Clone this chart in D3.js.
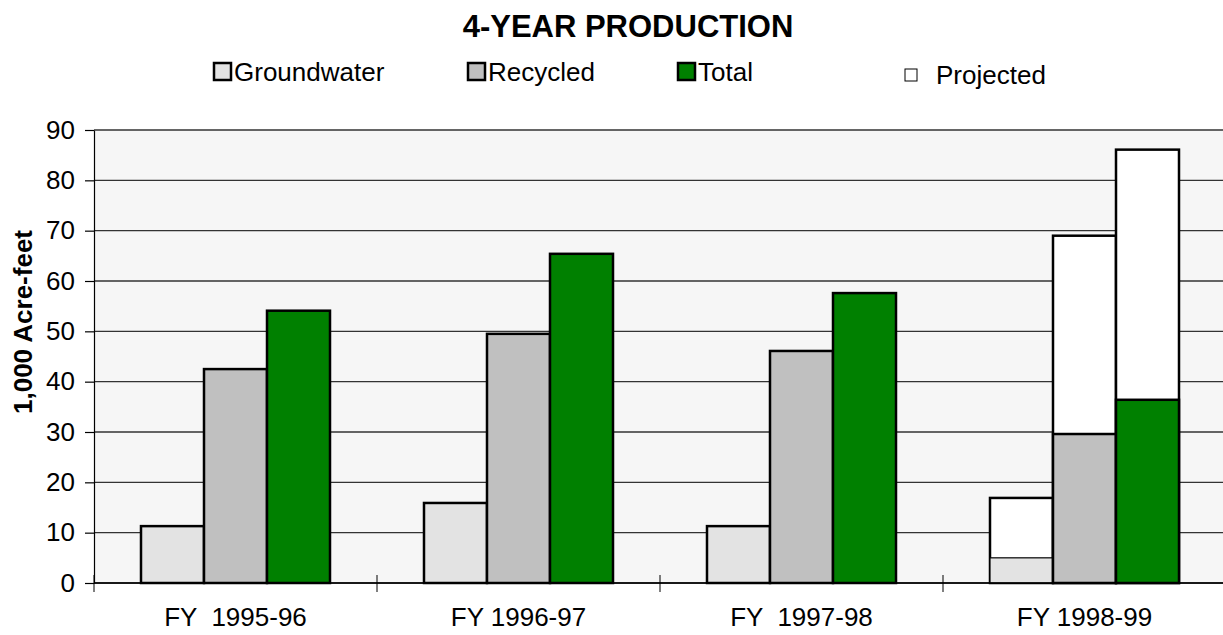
<!DOCTYPE html>
<html lang="en">
<head>
    <meta charset="UTF-8">
    <title>4-Year Production</title>
    <script src="https://d3js.org/d3.v7.min.js"></script>
    <style>
        body { margin: 0; background: #fff; }
        svg text { font-family: "Liberation Sans", Arial, sans-serif; fill: #000; }
    </style>
</head>
<body>
    <svg width="1223" height="635"></svg>

    <script>
        // data
        const years = ["FY  1995-96", "FY 1996-97", "FY  1997-98", "FY 1998-99"];
        const series = ["Groundwater", "Recycled", "Total"];
        const groundwater = [11.3, 15.9, 11.3, 5.0];
        const recycled = [42.5, 49.5, 46.1, 29.6];
        const total = [54.1, 65.4, 57.6, 36.4];
        // projected totals (only last year)
        const projGroundwater = [null, null, null, 16.9];
        const projRecycled = [null, null, null, 69.0];
        const projTotal = [null, null, null, 86.1];
        const yTicks = [0, 10, 20, 30, 40, 50, 60, 70, 80, 90];

        const colors = { Groundwater: "#e3e3e3", Recycled: "#c0c0c0", Total: "#008000" };
        const actual = { Groundwater: groundwater, Recycled: recycled, Total: total };
        const projected = { Groundwater: projGroundwater, Recycled: projRecycled, Total: projTotal };

        const svg = d3.select("svg");
        const plotL = 94, plotT = 130, plotB = 583, plotR = 1226;

        const x0 = d3.scaleBand().domain(years).range([plotL, plotR]).padding(0);
        const x1 = d3.scaleBand().domain(series).range([0, x0.bandwidth()])
            .paddingInner(0).paddingOuter(0.746);
        const y = d3.scaleLinear().domain([0, 90]).range([plotB, plotT]);

        // plot area
        svg.append("rect")
            .attr("x", plotL).attr("y", plotT)
            .attr("width", plotR - plotL).attr("height", plotB - plotT)
            .attr("fill", "#f6f6f6");

        // gridlines
        svg.append("g")
            .selectAll("line")
            .data(yTicks)
            .enter()
            .append("line")
            .attr("x1", plotL).attr("x2", plotR)
            .attr("y1", d => y(d)).attr("y2", d => y(d))
            .attr("stroke", "#333").attr("stroke-width", 1.3);

        // bars
        const groups = svg.append("g")
            .selectAll("g")
            .data(years)
            .enter()
            .append("g")
            .attr("transform", d => "translate(" + x0(d) + ",0)");

        groups.each(function (yr, i) {
            const g = d3.select(this);
            series.forEach(function (s) {
                const p = projected[s][i];
                if (p != null) {
                    g.append("rect")
                        .attr("x", x1(s)).attr("width", x1.bandwidth())
                        .attr("y", y(p)).attr("height", y(0) - y(p))
                        .attr("fill", "#fff")
                        .attr("stroke", "#000").attr("stroke-width", 2.5);
                }
                const v = actual[s][i];
                g.append("rect")
                    .attr("x", x1(s)).attr("width", x1.bandwidth())
                    .attr("y", y(v)).attr("height", y(0) - y(v))
                    .attr("fill", colors[s])
                    .attr("stroke", "#000")
                    .attr("stroke-width", (p != null && s === "Groundwater") ? 1.2 : 2.5);
            });
        });

        // y axis
        const yAxis = svg.append("g")
            .attr("transform", "translate(" + plotL + ",0)")
            .call(d3.axisLeft(y).tickValues(yTicks).tickSize(9).tickSizeOuter(0).tickPadding(10));
        yAxis.selectAll("text").style("font-size", "26px");
        yAxis.selectAll("line, path").attr("stroke", "#000").attr("stroke-width", 1.2);

        // x axis
        svg.append("line")
            .attr("x1", plotL).attr("x2", plotR)
            .attr("y1", plotB).attr("y2", plotB)
            .attr("stroke", "#000").attr("stroke-width", 1.3);

        const bounds = years.map(d => x0(d)).concat([plotR]);
        svg.append("g")
            .selectAll("line")
            .data(bounds)
            .enter()
            .append("line")
            .attr("x1", d => d).attr("x2", d => d)
            .attr("y1", plotB - 8).attr("y2", plotB + 9)
            .attr("stroke", "#000").attr("stroke-width", 1);

        const xAxis = svg.append("g")
            .attr("transform", "translate(0," + plotB + ")")
            .call(d3.axisBottom(x0).tickSize(0).tickPadding(25));
        xAxis.select(".domain").remove();
        xAxis.selectAll("text").style("font-size", "26px").style("white-space", "pre");

        // y axis title
        svg.append("text")
            .attr("transform", "translate(32,322) rotate(-90)")
            .attr("text-anchor", "middle")
            .style("font-size", "26px").style("font-weight", "bold")
            .text("1,000 Acre-feet");

        // title
        svg.append("text")
            .attr("x", 628).attr("y", 37)
            .attr("text-anchor", "middle")
            .style("font-size", "31px").style("font-weight", "bold")
            .text("4-YEAR PRODUCTION");

        // legend
        const legendItems = [
            { name: "Groundwater", x: 214, fill: colors.Groundwater },
            { name: "Recycled", x: 468, fill: colors.Recycled },
            { name: "Total", x: 678, fill: colors.Total }
        ];
        const legend = svg.append("g");
        legend.selectAll("rect")
            .data(legendItems)
            .enter()
            .append("rect")
            .attr("x", d => d.x).attr("y", 63)
            .attr("width", 17).attr("height", 17)
            .attr("fill", d => d.fill)
            .attr("stroke", "#000").attr("stroke-width", 2.5);
        legend.selectAll("text")
            .data(legendItems)
            .enter()
            .append("text")
            .attr("x", d => d.x + 20).attr("y", 81)
            .style("font-size", "26px")
            .text(d => d.name);

        svg.append("rect")
            .attr("x", 905).attr("y", 69)
            .attr("width", 12).attr("height", 12)
            .attr("fill", "#fff").attr("stroke", "#000").attr("stroke-width", 1);
        svg.append("text")
            .attr("x", 936).attr("y", 84)
            .style("font-size", "26px")
            .text("Projected");
    </script>
</body>
</html>
